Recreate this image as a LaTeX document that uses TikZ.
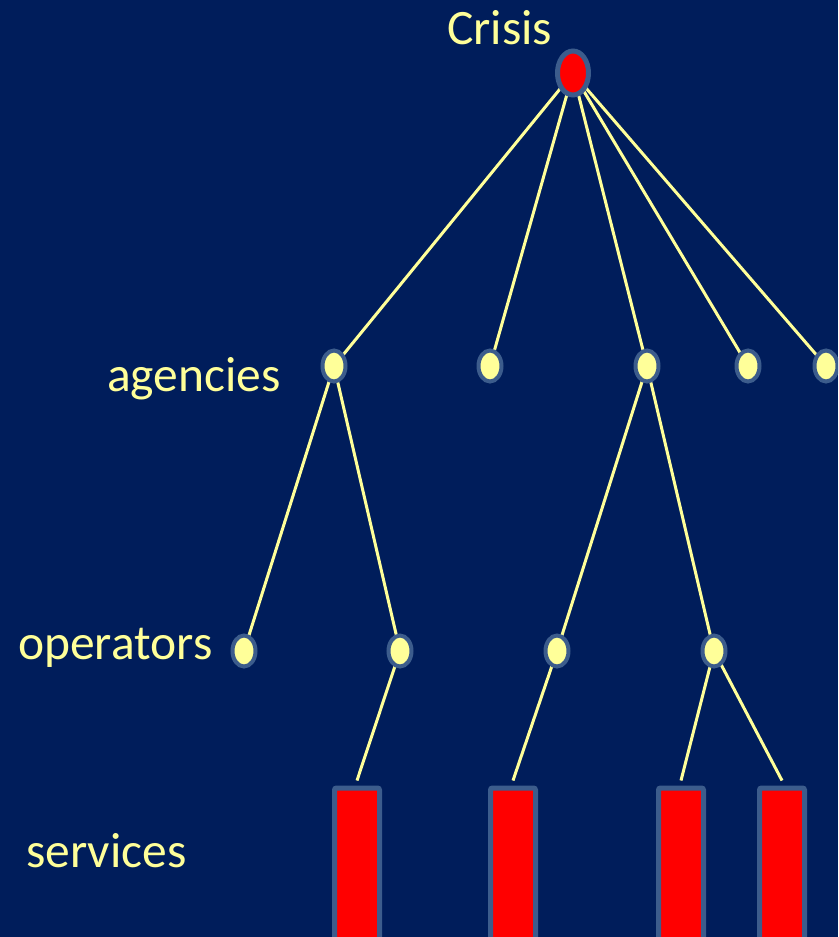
\documentclass[tikz,border=0pt]{standalone}
\usepackage{fontspec}
\setmainfont{Carlito}
\usetikzlibrary{shapes.geometric}
\definecolor{bg}{HTML}{001D5B}
\definecolor{rim}{HTML}{3C5C8C}
\definecolor{pale}{HTML}{FFFF99}
\definecolor{hot}{HTML}{FF0000}
\begin{document}
\begin{tikzpicture}[x=1pt,y=-1pt,
  link/.style={draw=pale,line width=3pt},
  root/.style={ellipse,draw=rim,fill=hot,line width=5pt,minimum width=31pt,minimum height=44pt,inner sep=0pt},
  dot/.style={ellipse,draw=rim,fill=pale,line width=4pt,minimum width=23pt,minimum height=31pt,inner sep=0pt},
  svc/.style={rectangle,rounded corners=2pt,draw=rim,fill=hot,line width=5pt,minimum width=45pt,minimum height=200pt,inner sep=0pt,anchor=north},
  lbl/.style={text=pale,font=\fontsize{49.5}{56}\selectfont,inner sep=0pt,anchor=base west}
]
\useasboundingbox (0,0) rectangle (838,937);
\fill[bg] (0,0) rectangle (838,937);
\clip (0,0) rectangle (838,937);

% level labels
\node[lbl] (tCrisis) at (447,44) {Crisis};
\node[lbl] (tAg) at (107,391) {agencies};
\node[lbl] (tOp) at (18,659) {operators};
\node[lbl] (tSv) at (26,867) {services};

% coordinates of the tree
\coordinate (c) at (573,73);
\coordinate (a1) at (334,366);
\coordinate (a2) at (490,366);
\coordinate (a3) at (647,366);
\coordinate (a4) at (748,366);
\coordinate (a5) at (826,366);
\coordinate (o1) at (244,651);
\coordinate (o2) at (400,651);
\coordinate (o3) at (557,651);
\coordinate (o4) at (714,651);
\coordinate (s1) at (357,785.5);
\coordinate (s2) at (513,785.5);
\coordinate (s3) at (681,785.5);
\coordinate (s4) at (782,785.5);

% edges first, nodes cover their ends
\foreach \t in {a1,a2,a3,a4,a5} \draw[link] (c) -- (\t);
\draw[link] (a1) -- (o1);
\draw[link] (a1) -- (o2);
\draw[link] (a3) -- (o3);
\draw[link] (a3) -- (o4);
\draw[link] (o2) -- ([yshift=5pt]s1);
\draw[link] (o3) -- ([yshift=5pt]s2);
\draw[link] (o4) -- ([yshift=5pt]s3);
\draw[link] (o4) -- ([yshift=5pt]s4);

\node[root] (nc) at (c) {};
\foreach \t in {a1,a2,a3,a4,a5,o1,o2,o3,o4} \node[dot] (n\t) at (\t) {};
\foreach \t in {s1,s2,s3,s4} \node[svc] (n\t) at (\t) {};
\end{tikzpicture}
\end{document}
